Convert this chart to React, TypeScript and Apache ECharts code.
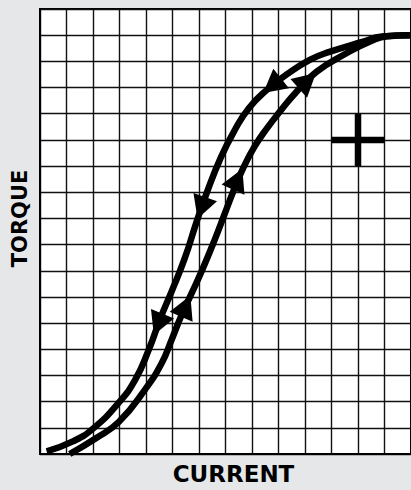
import React, { useEffect, useRef } from "react";
import * as echarts from "echarts";

// Grid extents (cells)
const xMax = 14;
const yMax = 17;

// Descending branch (outer / left curve), [current, torque] in grid cells
const descending: [number, number][] = [
  [0.25, 0.1], [1.24, 0.48], [2.0, 0.97], [2.98, 1.97], [3.6, 2.85], [4.1, 3.97],
  [4.55, 5.2], [4.97, 6.22], [5.46, 7.47], [5.9, 8.84], [6.3, 10.0], [6.83, 11.34],
  [7.33, 12.34], [7.88, 13.21], [8.57, 13.92], [9.31, 14.5], [10.18, 15.06],
  [10.92, 15.36], [12.16, 15.74], [12.91, 15.95], [14, 16.0],
];

// Ascending branch (inner / right curve)
const ascending: [number, number][] = [
  [1.12, 0], [2.11, 0.6], [2.98, 1.23], [3.97, 2.47], [4.59, 3.47], [4.96, 4.35],
  [5.34, 5.3], [5.75, 6.2], [6.15, 7.1], [6.58, 8.15], [6.96, 9.15], [7.3, 10.05],
  [7.68, 10.95], [8.1, 11.75], [8.57, 12.45], [9.06, 13.09], [9.68, 13.84],
  [10.43, 14.6], [11.55, 15.3], [12.54, 15.8], [13.1, 15.96], [14, 16.0],
];

// Arrow positions on each branch
const descArrows: [number, number][] = [[4.46, 4.95], [6.09, 9.4], [8.76, 14.07]];
const ascArrows: [number, number][] = [[5.5, 5.65], [7.46, 10.5], [10.09, 14.26]];

// Plus sign
const plusH: [number, number][] = [[11, 12], [13, 12]];
const plusV: [number, number][] = [[12, 11], [12, 13]];

const cellW = 26.85;
const cellH = 26.69;

function tangentAngle(curve: [number, number][], p: [number, number], forward: boolean): number {
  let i = 0;
  for (let k = 0; k < curve.length - 1; k++) {
    if (p[1] >= curve[k][1] && p[1] <= curve[k + 1][1]) { i = k; break; }
  }
  const a = curve[Math.max(0, i - 1)];
  const b = curve[Math.min(curve.length - 1, i + 2)];
  let dx = (b[0] - a[0]) * cellW;
  let dy = (b[1] - a[1]) * cellH;
  if (!forward) { dx = -dx; dy = -dy; }
  const ang = (Math.atan2(dy, dx) * 180) / Math.PI;
  return ang - 90;
}

export default function App() {
  const ref = useRef<HTMLDivElement>(null);
  useEffect(() => {
    if (!ref.current) return;
    const chart = echarts.init(ref.current, null, { renderer: "svg" });
    const arrowData = (pts: [number, number][], curve: [number, number][], forward: boolean) =>
      pts.map((p) => ({ value: p, symbolRotate: tangentAngle(curve, p, forward) }));
    const lineBase = {
      type: "line" as const,
      symbol: "none",
      smooth: 0.5,
      silent: true,
      lineStyle: { color: "#000", width: 6.5 },
      z: 3,
    };
    const arrowSeries = (data: any[]) => ({
      type: "scatter" as const,
      symbol: "triangle",
      symbolSize: [25, 23],
      itemStyle: { color: "#000", opacity: 1 },
      silent: true,
      z: 4,
      data,
    });
    chart.setOption({
      animation: false,
      backgroundColor: "#e6e7e9",
      grid: {
        left: 40,
        top: 9,
        width: cellW * xMax,
        height: cellH * yMax,
        show: true,
        backgroundColor: "#fff",
        borderColor: "#000",
        borderWidth: 2,
      },
      xAxis: {
        type: "value",
        min: 0,
        max: xMax,
        interval: 1,
        name: "CURRENT",
        nameLocation: "middle",
        nameGap: 8,
        nameTextStyle: {
          fontFamily: "DejaVu Sans",
          fontWeight: "bold",
          fontSize: 23,
          color: "#000",
          verticalAlign: "top",
          padding: [0, 0, 0, 16],
        },
        axisLine: { show: true, lineStyle: { color: "#000", width: 2 } },
        axisTick: { show: false },
        axisLabel: { show: false },
        splitLine: { show: true, lineStyle: { color: "#111", width: 1.4 } },
      },
      yAxis: {
        type: "value",
        min: 0,
        max: yMax,
        interval: 1,
        name: "TORQUE",
        nameLocation: "middle",
        nameRotate: 90,
        nameGap: 10,
        nameTextStyle: {
          fontFamily: "DejaVu Sans",
          fontWeight: "bold",
          fontSize: 21,
          color: "#000",
          padding: [0, 0, 0, 26],
        },
        axisLine: { show: true, lineStyle: { color: "#000", width: 2 } },
        axisTick: { show: false },
        axisLabel: { show: false },
        splitLine: { show: true, lineStyle: { color: "#111", width: 1.4 } },
      },
      series: [
        { ...lineBase, name: "descending", data: descending },
        { ...lineBase, name: "ascending", data: ascending },
        { ...lineBase, smooth: false, name: "plusH", data: plusH },
        { ...lineBase, smooth: false, name: "plusV", data: plusV },
        arrowSeries(arrowData(descArrows, descending, false)),
        arrowSeries(arrowData(ascArrows, ascending, true)),
      ],
    });
    return () => chart.dispose();
  }, []);
  return (
    <div
      ref={ref}
      style={{ position: "fixed", left: 0, top: 0, width: 411, height: 490 }}
    />
  );
}
